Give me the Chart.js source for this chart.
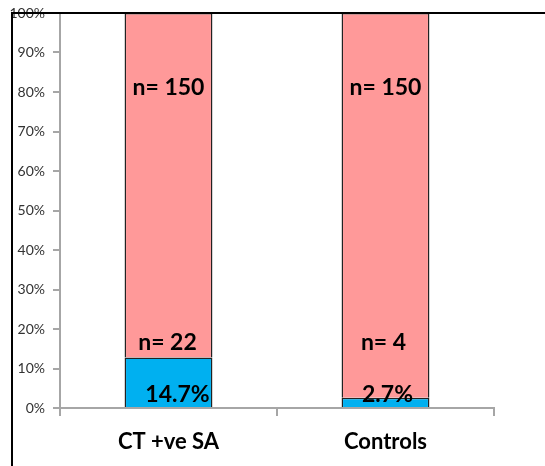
<!DOCTYPE html>
<html>
<head>
<meta charset="utf-8">
<script src="https://cdn.jsdelivr.net/npm/chart.js@4/dist/chart.umd.min.js"></script>
<style>
  html, body { margin: 0; padding: 0; background: #ffffff; }
  canvas { display: block; }
</style>
</head>
<body>
<canvas id="chart" width="545" height="466"></canvas>
<script>
// Group names along the category axis
const categories = ['CT +ve SA', 'Controls'];
// Case counts: culture-positive samples and the comparison total for each group
const positiveCounts = [22, 4];
const totalCounts = [150, 150];
// Percentage ticks on the value axis
const yTicks = [0, 10, 20, 30, 40, 50, 60, 70, 80, 90, 100];

// 100% stacked shares built from the counts
const positiveShare = positiveCounts.map((p, i) => p / (p + totalCounts[i]) * 100);
const totalShare = totalCounts.map((t, i) => t / (positiveCounts[i] + t) * 100);
// Rate printed at the foot of each bar
const positiveRate = positiveCounts.map((p, i) => (p / totalCounts[i] * 100).toFixed(1) + '%');

const AXIS_GREY = '#A6A6A6';
const LABEL_FONT = 'bold 23px Lato, "Open Sans", sans-serif';

// Count and rate annotations written onto the bars
const barText = {
  id: 'barText',
  afterDatasetsDraw(chart) {
    const ctx = chart.ctx;
    const y = chart.scales.y;
    const bars = chart.getDatasetMeta(0).data;
    const rateNudge = [9, 2];
    const countNudge = [-1, -2];
    ctx.save();
    ctx.font = LABEL_FONT;
    ctx.fillStyle = '#000';
    ctx.textAlign = 'center';
    ctx.textBaseline = 'middle';
    bars.forEach((bar, i) => {
      ctx.fillText('n= ' + totalCounts[i], bar.x, y.getPixelForValue(81));
      ctx.fillText('n= ' + positiveCounts[i], bar.x + countNudge[i], y.getPixelForValue(16.6));
      ctx.fillText(positiveRate[i], bar.x + rateNudge[i], y.getPixelForValue(3.3));
    });
    ctx.restore();
  }
};

// Black frame along the top and left edges of the figure
const frame = {
  id: 'frame',
  afterDraw(chart) {
    const ctx = chart.ctx;
    ctx.save();
    ctx.strokeStyle = '#000';
    ctx.lineWidth = 2;
    ctx.beginPath();
    ctx.moveTo(12, chart.height);
    ctx.lineTo(12, 13);
    ctx.lineTo(chart.width, 13);
    ctx.stroke();
    ctx.restore();
  }
};

new Chart(document.getElementById('chart'), {
  type: 'bar',
  data: {
    labels: categories,
    datasets: [
      {
        label: 'Positive',
        data: positiveShare,
        backgroundColor: '#00B0F0',
        borderColor: '#222222',
        borderWidth: 1.5,
        categoryPercentage: 1,
        barPercentage: 0.405
      },
      {
        label: 'Total',
        data: totalShare,
        backgroundColor: '#FF9999',
        borderColor: '#222222',
        borderWidth: 1.5,
        categoryPercentage: 1,
        barPercentage: 0.405
      }
    ]
  },
  options: {
    responsive: false,
    animation: false,
    devicePixelRatio: 1,
    layout: { padding: { top: 13, right: 51, left: 0, bottom: 0 } },
    plugins: {
      legend: { display: false },
      tooltip: { enabled: false }
    },
    scales: {
      x: {
        stacked: true,
        grid: {
          display: true,
          drawOnChartArea: false,
          offset: true,
          tickLength: 8,
          color: AXIS_GREY,
          lineWidth: 2
        },
        border: { color: AXIS_GREY, width: 2 },
        ticks: {
          color: '#000',
          font: { family: 'Lato', weight: 'bold', size: 22 },
          padding: 13
        },
        afterFit(scale) { scale.height = 58; }
      },
      y: {
        stacked: true,
        min: 0,
        max: 100,
        afterBuildTicks(scale) { scale.ticks = yTicks.map(v => ({ value: v })); },
        grid: {
          display: true,
          drawOnChartArea: false,
          tickLength: 7,
          color: AXIS_GREY,
          lineWidth: 2
        },
        border: { color: AXIS_GREY, width: 2 },
        ticks: {
          color: '#333333',
          font: { family: 'Lato', size: 14 },
          padding: 8,
          callback: v => v + '%'
        },
        afterFit(scale) {
          scale.width = 60;
          scale.paddingTop = 0;
          scale.paddingBottom = 0;
        }
      }
    }
  },
  plugins: [barText, frame]
});
</script>
</body>
</html>
